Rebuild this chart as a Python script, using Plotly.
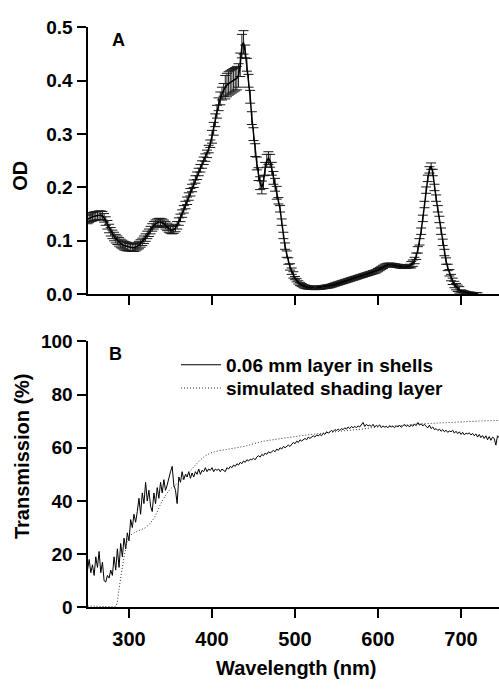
import plotly.graph_objects as go

# ---------------- Panel A : OD spectrum (2 nm steps, 250-720 nm) ----------------
od_start, od_step = 250, 2
od_values = [
    0.140, 0.142, 0.144, 0.145, 0.146, 0.147, 0.147, 0.148, 0.148, 0.147,
    0.143, 0.137, 0.130, 0.123, 0.117, 0.112, 0.108, 0.104, 0.101, 0.098,
    0.095, 0.093, 0.091, 0.090, 0.089, 0.088, 0.088, 0.087, 0.087, 0.088,
    0.090, 0.092, 0.095, 0.098, 0.102, 0.106, 0.111, 0.115, 0.120, 0.125,
    0.129, 0.132, 0.134, 0.135, 0.135, 0.134, 0.132, 0.129, 0.126, 0.123,
    0.121, 0.120, 0.121, 0.124, 0.129, 0.136, 0.143, 0.151, 0.159, 0.167,
    0.175, 0.183, 0.191, 0.199, 0.207, 0.215, 0.222, 0.229, 0.236, 0.243,
    0.250, 0.256, 0.263, 0.272, 0.282, 0.295, 0.310, 0.326, 0.342, 0.356,
    0.367, 0.376, 0.383, 0.388, 0.392, 0.395, 0.397, 0.399, 0.401, 0.403,
    0.405, 0.410, 0.430, 0.465, 0.472, 0.455, 0.430, 0.400, 0.370, 0.330,
    0.300, 0.270, 0.245, 0.225, 0.208, 0.200, 0.210, 0.235, 0.250, 0.255,
    0.250, 0.235, 0.218, 0.205, 0.190, 0.175, 0.160, 0.135, 0.110, 0.090,
    0.075, 0.062, 0.051, 0.043, 0.036, 0.030, 0.026, 0.022, 0.019, 0.017,
    0.015, 0.014, 0.013, 0.0125, 0.012, 0.012, 0.0115, 0.0115, 0.0115, 0.012,
    0.012, 0.0125, 0.013, 0.0135, 0.014, 0.0145, 0.015, 0.016, 0.017, 0.018,
    0.019, 0.020, 0.021, 0.022, 0.023, 0.024, 0.025, 0.026, 0.027, 0.028,
    0.029, 0.030, 0.031, 0.032, 0.033, 0.034, 0.035, 0.036, 0.037, 0.038,
    0.039, 0.040, 0.041, 0.042, 0.043, 0.045, 0.047, 0.049, 0.051, 0.053,
    0.054, 0.055, 0.055, 0.055, 0.054, 0.054, 0.053, 0.053, 0.052, 0.052,
    0.051, 0.051, 0.051, 0.052, 0.053, 0.055, 0.058, 0.063, 0.071, 0.083,
    0.098, 0.118, 0.142, 0.168, 0.195, 0.217, 0.233, 0.240, 0.228, 0.200,
    0.180, 0.160, 0.140, 0.118, 0.097, 0.078, 0.062, 0.050, 0.040, 0.031,
    0.024, 0.018, 0.014, 0.011, 0.008, 0.006, 0.005, 0.004, 0.003, 0.002,
    0.002, 0.0015, 0.001, 0.001, 0.001, 0.0005,
]
od_errors = (
    [0.008] * 25 +   # 250-298
    [0.007] * 50 +   # 300-398
    [0.012] * 8 +    # 400-414
    [0.022] * 12 +   # 416-438
    [0.012] * 20 +   # 440-478
    [0.006] * 10 +   # 480-498
    [0.003] * 70 +   # 500-638
    [0.006] * 30 +   # 640-698
    [0.002] * 11     # 700-720
)
od_x = [od_start + od_step * i for i in range(len(od_values))]

# ---------------- Panel B : Transmission (2 nm steps, 250-748 nm) ----------------
tr_start, tr_step = 250, 2
tr_shell = [
    14, 18, 13, 16, 12, 19, 15, 21, 13, 17,
    10, 9.5, 12, 11, 14, 12, 19, 14, 22, 15,
    24, 19, 26, 22, 28, 25, 33, 30, 35, 32,
    36, 41, 35, 43, 39, 47, 40, 44, 38, 36,
    43, 39, 45, 41, 47, 43, 48, 44, 46, 49,
    51, 53, 46, 44, 39, 49, 47, 51, 48, 50,
    49, 51, 48.5, 50.5, 49, 51, 50, 52, 50, 51.5,
    51, 52.5, 51, 52, 51.5, 52.5, 51, 52, 51.5, 52,
    51, 52, 51.5, 51, 52.5, 52, 53, 52.5, 53.5, 53,
    54, 53.5, 54.5, 54, 55, 54.5, 55.5, 55, 55.7, 55.5,
    56, 55.5, 56.5, 57, 56.5, 57.5, 57, 58, 57.5, 58.5,
    58, 58.5, 59, 58.5, 59.5, 59, 60, 59.5, 60.5, 60,
    60.5, 61, 60.5, 61.5, 62, 61.5, 62.5, 62, 63, 62.5,
    63, 63.5, 63, 64, 63.5, 64, 64.5, 64, 64.8, 64.5,
    65, 64.5, 65.5, 65, 66, 65.5, 66, 66.5, 66, 66.8,
    66.5, 67, 66.5, 67.2, 66.8, 67.5, 67, 67.8, 67.2, 68,
    67.5, 68, 67.6, 68.2, 67.8, 68.5, 69.5, 68, 68.8, 68.2,
    68.5, 68, 68.8, 67.8, 68.4, 68, 68.6, 67.6, 68.2, 67.8,
    68, 67.5, 68.3, 67.8, 68.1, 67.5, 68.2, 67.9, 68.4, 67.7,
    68.2, 68.8, 68, 68.5, 67.8, 68.6, 68.1, 68.9, 68.3, 69.5,
    68.5, 69, 68.2, 68.8, 68, 67.5, 68.5, 67.2, 67.8, 66.8,
    67.2, 66.5, 67, 66.2, 66.8, 66, 66.6, 65.8, 66.3, 66,
    66.6, 65.5, 66.2, 65.3, 66, 65, 65.8, 64.8, 65.5, 65.2,
    65.6, 64.8, 65.4, 64.5, 65.2, 64, 65, 63.8, 64.6, 63.5,
    64.5, 63, 64.2, 62.8, 64, 63.5, 61, 64.5, 63.8, 65,
]
tr_x = [tr_start + tr_step * i for i in range(len(tr_shell))]

sim_x = [250, 260, 270, 280, 284, 288, 292, 296, 300, 310, 320, 330, 340, 350,
         360, 370, 380, 390, 400, 420, 440, 460, 480, 500, 520, 540, 560, 580,
         600, 620, 640, 660, 680, 700, 720, 748]
sim_y = [0.5, 0.4, 0.3, 0.3, 0.5, 7, 15, 22, 26.5, 28.6, 30, 33.5, 40, 44.5,
         47, 50, 53.5, 56.5, 58.2, 59.5, 60.6, 62.3, 63.3, 64.2, 65, 65.7, 66.4, 67,
         67.8, 68.2, 68.7, 69.1, 69.4, 69.7, 70, 70.3]

x_ticks = [300, 400, 500, 600, 700]
od_ticks = [0.0, 0.1, 0.2, 0.3, 0.4, 0.5]
od_ticklabels = ["0.0", "0.1", "0.2", "0.3", "0.4", "0.5"]
tr_ticks = [0, 20, 40, 60, 80, 100]

FONT = "Arial, Liberation Sans, sans-serif"
W, H = 499, 693

fig = go.Figure()
fig.add_trace(go.Scatter(
    x=od_x, y=od_values, mode="lines", showlegend=False,
    line=dict(color="black", width=1.5),
    error_y=dict(type="data", array=od_errors, color="#1a1a1a", thickness=1, width=5),
    xaxis="x", yaxis="y",
))
fig.add_trace(go.Scatter(
    x=tr_x, y=tr_shell, mode="lines", name="0.06 mm layer in shells",
    line=dict(color="black", width=1), xaxis="x2", yaxis="y2", legend="legend",
))
fig.add_trace(go.Scatter(
    x=sim_x, y=sim_y, mode="lines", name="simulated shading layer",
    line=dict(color="#333333", width=1, dash="1px,2px", shape="spline"),
    xaxis="x2", yaxis="y2", legend="legend2",
))

x_dom = [87.5 / W, 1.0]
x_rng = [250, 250 + (W - 87.5) / 0.83]
top_dom = [1 - 293 / H, 1 - 18 / H]
bot_dom = [1 - 616 / H, 1 - 341.7 / H]

BOLD_X = dict(family=FONT, size=20, color="black", weight="bold")
BOLD_Y = dict(family=FONT, size=19, color="black", weight="bold")
LEG_FONT = dict(family=FONT, size=19, color="black", weight="bold")

common_x = dict(domain=x_dom, range=x_rng, tickvals=x_ticks, showline=True, linecolor="black",
                linewidth=2, ticks="outside", ticklen=9, tickwidth=2, tickcolor="black",
                showgrid=False, zeroline=False, tickfont=BOLD_X)
common_y = dict(showline=True, linecolor="black", linewidth=2, ticks="outside", ticklen=9,
                tickwidth=2, tickcolor="black", showgrid=False, zeroline=False,
                tickfont=BOLD_Y)


def ann(text, x, y, size=20, angle=0):
    return dict(text=text, x=x / W, y=1 - y / H, xref="paper", yref="paper",
                xanchor="center", yanchor="middle", showarrow=False, textangle=angle,
                font=dict(family=FONT, size=size, color="black", weight="bold"))


def leg(y_center):
    return dict(x=176 / W, y=1 - y_center / H, xanchor="left", yanchor="middle",
                bgcolor="rgba(0,0,0,0)", itemwidth=40, font=LEG_FONT)


fig.update_layout(
    width=W, height=H, margin=dict(l=0, r=0, t=0, b=0),
    plot_bgcolor="white", paper_bgcolor="white",
    font=dict(family=FONT, color="black"),
    xaxis=dict(**common_x, anchor="y", showticklabels=False),
    yaxis=dict(**common_y, domain=top_dom, range=[0, 0.5], tickvals=od_ticks,
               ticktext=od_ticklabels, anchor="x"),
    xaxis2=dict(**common_x, anchor="y2", showticklabels=True, ticklabelstandoff=4),
    yaxis2=dict(**common_y, domain=bot_dom, range=[0, 100], tickvals=tr_ticks, anchor="x2"),
    legend=leg(366),
    legend2=leg(390),
    annotations=[
        ann("A", 118, 31, 18),
        ann("B", 115, 355, 18),
        ann("OD", 20, 171, 20, -90),
        ann("Transmission (%)", 22, 460, 20, -90),
        ann("Wavelength (nm)", 295.5, 679, 20),
    ],
)

fig.write_html("out.html")
